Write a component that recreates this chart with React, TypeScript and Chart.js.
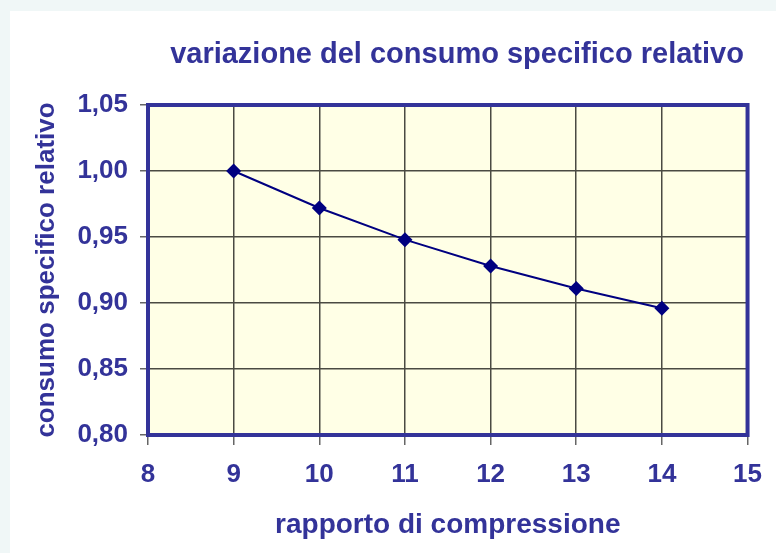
import React, { useEffect, useRef } from "react";
import { Chart, registerables } from "chart.js";

Chart.register(...registerables);

const chartTitle = "variazione del consumo specifico relativo";
const xAxisTitle = "rapporto di compressione";
const yAxisTitle = "consumo specifico relativo";

const compressionRatios = [9, 10, 11, 12, 13, 14];
const relativeConsumption = [1.0, 0.972, 0.948, 0.928, 0.911, 0.896];

const xMin = 8;
const xMax = 15;
const xStep = 1;
const yMin = 0.8;
const yMax = 1.05;
const yStep = 0.05;

const FONT = "'Liberation Sans', Arial, Helvetica, sans-serif";
const TEXT = "#333399";

const decor = {
  id: "decor",
  beforeDraw(chart: any) {
    const { ctx, width, height, chartArea } = chart;
    const { left, top, right, bottom } = chartArea;
    ctx.save();
    ctx.fillStyle = "#F0F7F7";
    ctx.fillRect(0, 0, width, height);
    ctx.fillStyle = "#FFFFFF";
    ctx.fillRect(10, 11, width - 10, height - 11);
    ctx.fillStyle = "#FFFFE6";
    ctx.fillRect(left, top, right - left, bottom - top);
    ctx.restore();
  },
  afterDraw(chart: any) {
    const { ctx, chartArea } = chart;
    const { left, top, right, bottom } = chartArea;
    ctx.save();
    ctx.strokeStyle = "#333399";
    ctx.lineWidth = 4;
    ctx.strokeRect(left, top, right - left, bottom - top);
    ctx.fillStyle = TEXT;
    ctx.font = `bold 29px ${FONT}`;
    ctx.textAlign = "center";
    ctx.textBaseline = "alphabetic";
    ctx.fillText(chartTitle, 457, 63);
    ctx.restore();
  },
};

export default function App() {
  const ref = useRef<HTMLCanvasElement | null>(null);

  useEffect(() => {
    if (!ref.current) return;
    const chart = new Chart(ref.current, {
      type: "line",
      data: {
        datasets: [
          {
            data: compressionRatios.map((x, i) => ({ x, y: relativeConsumption[i] })),
            borderColor: "#000080",
            backgroundColor: "#000080",
            borderWidth: 2,
            pointStyle: "rectRot",
            pointRadius: 7.5,
            pointHoverRadius: 7.5,
            pointBorderWidth: 0,
            tension: 0,
          },
        ],
      },
      options: {
        responsive: false,
        animation: false,
        events: [],
        layout: { padding: { top: 105, right: 25, left: 0, bottom: 0 } },
        plugins: {
          legend: { display: false },
          title: { display: false },
          tooltip: { enabled: false },
        },
        scales: {
          x: {
            type: "linear",
            min: xMin,
            max: xMax,
            afterFit: (s: any) => {
              s.height = 118;
            },
            ticks: {
              stepSize: xStep,
              padding: 14,
              color: TEXT,
              font: { family: FONT, size: 26, weight: "bold" },
            },
            grid: {
              color: "#4a4a42",
              lineWidth: 1.5,
              tickLength: 10,
              tickColor: "#666666",
            },
            border: { display: false },
            title: {
              display: true,
              text: xAxisTitle,
              color: TEXT,
              font: { family: FONT, size: 28, weight: "bold" },
              padding: { top: 0, bottom: 11 },
            },
          },
          y: {
            type: "linear",
            min: yMin,
            max: yMax,
            afterFit: (s: any) => {
              s.width = 148;
            },
            ticks: {
              stepSize: yStep,
              padding: 12,
              color: TEXT,
              font: { family: FONT, size: 26, weight: "bold" },
              callback: (v: any) => Number(v).toFixed(2).replace(".", ","),
            },
            grid: {
              color: "#4a4a42",
              lineWidth: 1.5,
              tickLength: 8,
              tickColor: "#666666",
            },
            border: { display: false },
            title: {
              display: true,
              text: yAxisTitle,
              color: TEXT,
              font: { family: FONT, size: 26, weight: "bold" },
              padding: { top: 31, bottom: 0 },
            },
          },
        },
      },
      plugins: [decor],
    });
    return () => chart.destroy();
  }, []);

  return (
    <div style={{ position: "fixed", left: 0, top: 0, width: 776, height: 553 }}>
      <canvas ref={ref} width={776} height={553} style={{ display: "block", width: 776, height: 553 }} />
    </div>
  );
}
